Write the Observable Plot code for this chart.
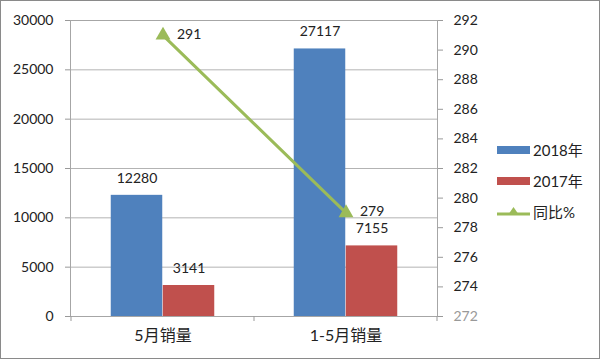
<!DOCTYPE html>
<html><head><meta charset="utf-8">
<script src="https://cdn.jsdelivr.net/npm/d3@7"></script>
<script src="https://cdn.jsdelivr.net/npm/@observablehq/plot@0.6"></script>
<style>
body{margin:0;background:#fff;}
#wrap{position:relative;width:600px;height:359px;font-family:"Lato","Noto Sans CJK SC",sans-serif;}
#wrap svg{outline:1px solid #8a8a8a;outline-offset:-1px;display:block;}
#legend{position:absolute;left:497px;top:134px;font-size:15px;color:#222;}
#legend .row{display:flex;align-items:center;height:31px;}
#legend .sw{width:33px;height:8px;margin-right:3px;}
</style></head>
<body><div id="wrap"><div id="legend"></div></div>
<script>
const categories = ["5月销量", "1-5月销量"];
const series = ["2018年", "2017年"];
const sales2018 = [12280, 27117];
const sales2017 = [3141, 7155];
const yoy = [291, 279];
const lineName = "同比%";
const leftTicks = [0, 5000, 10000, 15000, 20000, 25000, 30000];
const rightTicks = [272, 274, 276, 278, 280, 282, 284, 286, 288, 290, 292];
const colors = ["#4F81BD", "#C0504D"];
const lineColor = "#9BBB59";

const leftMax = 30000, rMin = 272, rMax = 292;
const toLeft = v => (v - rMin) / (rMax - rMin) * leftMax;
const fromLeft = d => Math.round(rMin + d / leftMax * (rMax - rMin));

const bars = [];
categories.forEach((c, i) => {
  bars.push({cat: c, series: series[0], value: sales2018[i]});
  bars.push({cat: c, series: series[1], value: sales2017[i]});
});
const linePts = categories.map((c, i) => ({cat: c, v: yoy[i], y: toLeft(yoy[i])}));

const bw = 183.5, barW = 52, outer = (bw - 2 * barW) / 2;

const boundaryTicks = (index, scales, values, dims) => {
  const g = d3.create("svg:g");
  const x = scales.x, bwid = x.bandwidth();
  const xs = [...categories.map(c => x(c)), x(categories[categories.length - 1]) + bwid];
  const y0 = dims.height - dims.marginBottom;
  xs.forEach(px => g.append("line").attr("x1", px).attr("x2", px).attr("y1", y0).attr("y2", y0 + 5).attr("stroke", "#999"));
  return g.node();
};

const chart = Plot.plot({
  width: 600, height: 359,
  marginLeft: 70, marginRight: 163, marginTop: 20, marginBottom: 43,
  style: {fontFamily: '"Lato","Noto Sans CJK SC",sans-serif', fontSize: "14px", color: "#222", background: "#fff"},
  x: {domain: categories, padding: 0},
  y: {domain: [0, leftMax]},
  marks: [
    Plot.gridY(leftTicks.slice(1, -1), {stroke: "#b3b3b3", strokeOpacity: 1}),
    Plot.rectY(bars.filter(d => d.series === series[0]), {x: "cat", y: "value", fill: colors[0], insetLeft: outer, insetRight: bw - outer - barW}),
    Plot.rectY(bars.filter(d => d.series === series[1]), {x: "cat", y: "value", fill: colors[1], insetLeft: outer + barW, insetRight: outer}),
    Plot.frame({stroke: "#a6a6a6"}),
    Plot.axisY(leftTicks, {anchor: "left", tickSize: 5, tickPadding: 12, stroke: "#999", fill: "#222", label: null, tickFormat: d => String(d)}),
    Plot.axisY(rightTicks.filter(t => t !== rMin).map(toLeft), {anchor: "right", tickSize: 5, tickPadding: 11, stroke: "#999", fill: "#222", label: null, tickFormat: fromLeft}),
    Plot.axisY([toLeft(rMin)], {anchor: "right", tickSize: 5, tickPadding: 11, stroke: "#999", fill: "#999", label: null, tickFormat: fromLeft}),
    Plot.axisX({tickSize: 0, tickPadding: 13, label: null, fill: "#222", fontSize: 16}),
    boundaryTicks,
    Plot.text(bars.filter(d => d.series === series[0]), {x: "cat", y: "value", text: d => String(d.value), dx: -26, dy: -17, fill: "#222"}),
    Plot.text(bars.filter(d => d.series === series[1]), {x: "cat", y: "value", text: d => String(d.value), dx: 26, dy: -17, fill: "#222"}),
    Plot.line(linePts, {x: "cat", y: "y", stroke: lineColor, strokeWidth: 3}),
    Plot.dot(linePts, {x: "cat", y: "y", symbol: "triangle", r: 5.5, fill: lineColor, stroke: "none"}),
    Plot.text(linePts, {x: "cat", y: "y", text: d => String(d.v), textAnchor: "start", dx: 14, dy: -1, fill: "#222"})
  ]
});
document.getElementById("wrap").prepend(chart);

const legend = document.getElementById("legend");
series.forEach((s, i) => {
  const r = document.createElement("div"); r.className = "row";
  r.innerHTML = `<div class="sw" style="background:${colors[i]}"></div><span>${s}</span>`;
  legend.appendChild(r);
});
const r = document.createElement("div"); r.className = "row";
r.innerHTML = `<svg width="36" height="14" style="margin-right:0px;outline:none"><line x1="0" y1="9" x2="33" y2="9" stroke="${lineColor}" stroke-width="3"/><path d="M16.5,2 L22,10 L11,10 Z" fill="${lineColor}"/></svg><span>${lineName}</span>`;
legend.appendChild(r);
</script></body></html>
